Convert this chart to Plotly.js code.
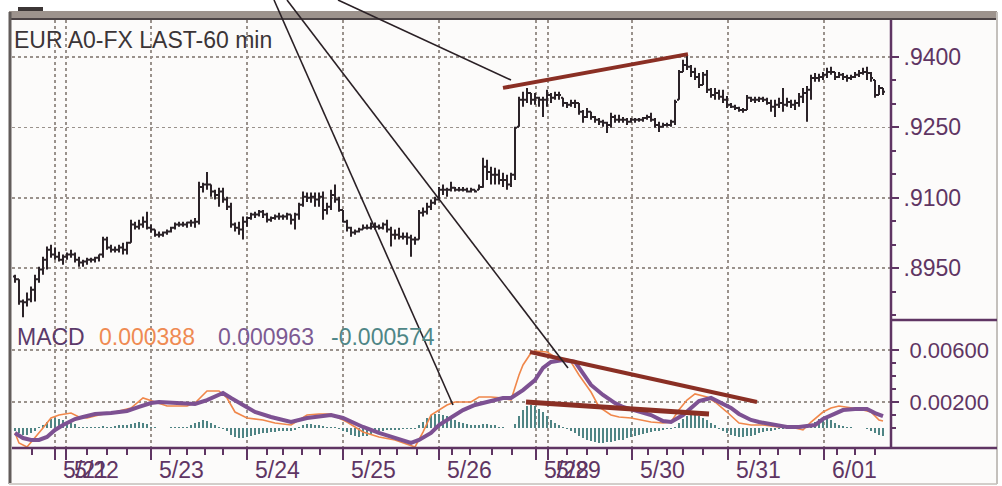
<!DOCTYPE html>
<html><head><meta charset="utf-8">
<script src="https://cdn.plot.ly/plotly-3.0.1.min.js"></script>
<style>html,body{margin:0;padding:0;background:#fff;}#chart{width:1002px;height:486px;}</style>
</head><body><div id="chart"></div>
<script>
// ---------------- DATA ----------------
const open = [
0.8932,0.8926,0.8879,0.8877,0.8883,0.8904,0.8926,0.8947,0.8968,0.8989,
0.8979,0.8974,0.8968,0.8974,0.8979,0.8979,0.8968,0.8962,0.8964,0.8968,
0.8968,0.8972,0.8979,0.9011,0.8994,0.8989,0.8989,0.8994,0.8989,0.9004,
0.9043,0.9038,0.9043,0.9049,0.9036,0.9032,0.9021,0.9021,0.9026,0.9028,
0.9036,0.9043,0.9043,0.9043,0.9047,0.9047,0.9049,0.9123,0.9128,0.9128,
0.9113,0.9106,0.9113,0.9096,0.9081,0.9043,0.9036,0.9032,0.9049,0.9057,
0.9064,0.9064,0.9070,0.9064,0.9053,0.9057,0.9060,0.9060,0.9060,0.9064,
0.9053,0.9064,0.9085,0.9102,0.9100,0.9102,0.9096,0.9102,0.9074,0.9081,
0.9106,0.9096,0.9074,0.9049,0.9036,0.9026,0.9028,0.9032,0.9036,0.9036,
0.9038,0.9038,0.9036,0.9043,0.9032,0.9021,0.9021,0.9017,0.9017,0.9015,
0.9011,0.9011,0.9068,0.9070,0.9081,0.9089,0.9096,0.9117,0.9117,0.9117,
0.9121,0.9117,0.9117,0.9117,0.9113,0.9117,0.9117,0.9123,0.9166,0.9155,
0.9149,0.9149,0.9138,0.9138,0.9128,0.9149,0.9251,0.9309,0.9309,0.9323,
0.9309,0.9313,0.9309,0.9309,0.9319,0.9313,0.9319,0.9313,0.9302,0.9298,
0.9302,0.9302,0.9283,0.9272,0.9283,0.9272,0.9266,0.9262,0.9260,0.9255,
0.9272,0.9266,0.9266,0.9266,0.9262,0.9266,0.9266,0.9266,0.9270,0.9272,
0.9266,0.9255,0.9251,0.9255,0.9255,0.9262,0.9309,0.9368,0.9383,0.9379,
0.9368,0.9357,0.9340,0.9362,0.9330,0.9319,0.9323,0.9315,0.9309,0.9298,
0.9294,0.9291,0.9287,0.9287,0.9313,0.9309,0.9309,0.9311,0.9309,0.9302,
0.9294,0.9298,0.9302,0.9298,0.9304,0.9298,0.9302,0.9315,0.9323,0.9330,
0.9355,0.9355,0.9357,0.9362,0.9368,0.9368,0.9357,0.9362,0.9357,0.9355,
0.9357,0.9362,0.9366,0.9368,0.9366,0.9351,0.9319,0.9334];
const high = [
0.8936,0.8926,0.8883,0.8898,0.8911,0.8936,0.8953,0.8974,0.8996,0.9000,
0.8994,0.8985,0.8979,0.8983,0.8989,0.8983,0.8974,0.8968,0.8972,0.8972,
0.8974,0.8979,0.9017,0.9017,0.9000,0.8996,0.9000,0.9004,0.9006,0.9053,
0.9049,0.9053,0.9060,0.9070,0.9043,0.9032,0.9028,0.9028,0.9032,0.9038,
0.9047,0.9049,0.9049,0.9049,0.9053,0.9057,0.9134,0.9132,0.9155,0.9128,
0.9117,0.9121,0.9121,0.9102,0.9089,0.9047,0.9049,0.9060,0.9060,0.9068,
0.9070,0.9074,0.9074,0.9068,0.9060,0.9064,0.9068,0.9064,0.9068,0.9064,
0.9068,0.9089,0.9113,0.9111,0.9111,0.9111,0.9111,0.9113,0.9089,0.9117,
0.9128,0.9102,0.9074,0.9053,0.9038,0.9032,0.9036,0.9043,0.9043,0.9047,
0.9047,0.9043,0.9047,0.9053,0.9038,0.9032,0.9036,0.9026,0.9026,0.9021,
0.9017,0.9074,0.9079,0.9089,0.9096,0.9102,0.9123,0.9128,0.9121,0.9134,
0.9123,0.9123,0.9123,0.9121,0.9121,0.9117,0.9128,0.9185,0.9181,0.9166,
0.9164,0.9160,0.9153,0.9149,0.9153,0.9251,0.9315,0.9326,0.9334,0.9323,
0.9323,0.9315,0.9315,0.9330,0.9323,0.9326,0.9326,0.9313,0.9304,0.9309,
0.9309,0.9302,0.9287,0.9291,0.9283,0.9274,0.9270,0.9266,0.9262,0.9281,
0.9277,0.9277,0.9272,0.9270,0.9270,0.9270,0.9270,0.9272,0.9277,0.9281,
0.9270,0.9262,0.9260,0.9260,0.9266,0.9309,0.9372,0.9394,0.9404,0.9383,
0.9377,0.9366,0.9368,0.9372,0.9334,0.9334,0.9330,0.9330,0.9317,0.9302,
0.9298,0.9294,0.9291,0.9319,0.9315,0.9315,0.9315,0.9315,0.9313,0.9309,
0.9309,0.9313,0.9334,0.9313,0.9309,0.9309,0.9323,0.9334,0.9338,0.9362,
0.9366,0.9364,0.9368,0.9377,0.9379,0.9368,0.9368,0.9366,0.9362,0.9362,
0.9368,0.9372,0.9377,0.9379,0.9368,0.9351,0.9340,0.9334];
const low = [
0.8919,0.8872,0.8845,0.8868,0.8877,0.8879,0.8919,0.8936,0.8947,0.8972,
0.8968,0.8964,0.8957,0.8968,0.8972,0.8962,0.8953,0.8953,0.8957,0.8962,
0.8962,0.8964,0.8972,0.8989,0.8983,0.8983,0.8983,0.8979,0.8979,0.9004,
0.9032,0.9032,0.9036,0.9032,0.9026,0.9017,0.9015,0.9017,0.9021,0.9026,
0.9032,0.9038,0.9038,0.9036,0.9038,0.9036,0.9043,0.9111,0.9117,0.9102,
0.9096,0.9081,0.9089,0.9074,0.9036,0.9028,0.9021,0.9011,0.9038,0.9053,
0.9057,0.9060,0.9057,0.9047,0.9049,0.9053,0.9053,0.9053,0.9053,0.9043,
0.9032,0.9053,0.9081,0.9091,0.9089,0.9081,0.9081,0.9053,0.9064,0.9074,
0.9089,0.9070,0.9047,0.9028,0.9017,0.9021,0.9026,0.9032,0.9032,0.9032,
0.9032,0.9032,0.9032,0.9026,0.8996,0.9011,0.9011,0.9011,0.9000,0.8974,
0.9000,0.9011,0.9060,0.9064,0.9074,0.9085,0.9096,0.9106,0.9102,0.9113,
0.9113,0.9113,0.9113,0.9111,0.9111,0.9111,0.9117,0.9121,0.9138,0.9128,
0.9128,0.9128,0.9123,0.9117,0.9123,0.9138,0.9251,0.9294,0.9302,0.9298,
0.9298,0.9294,0.9272,0.9294,0.9302,0.9309,0.9309,0.9294,0.9291,0.9294,
0.9291,0.9277,0.9260,0.9270,0.9266,0.9260,0.9255,0.9251,0.9238,0.9249,
0.9260,0.9260,0.9260,0.9255,0.9260,0.9260,0.9262,0.9262,0.9266,0.9262,
0.9249,0.9240,0.9249,0.9251,0.9251,0.9255,0.9309,0.9368,0.9372,0.9357,
0.9351,0.9334,0.9340,0.9323,0.9313,0.9309,0.9309,0.9302,0.9291,0.9291,
0.9287,0.9283,0.9281,0.9287,0.9304,0.9302,0.9304,0.9304,0.9298,0.9283,
0.9272,0.9291,0.9283,0.9294,0.9291,0.9287,0.9294,0.9302,0.9262,0.9309,
0.9347,0.9347,0.9351,0.9355,0.9362,0.9351,0.9355,0.9351,0.9347,0.9351,
0.9355,0.9357,0.9362,0.9351,0.9347,0.9313,0.9319,0.9319];
const close = [
0.8926,0.8879,0.8877,0.8883,0.8904,0.8926,0.8947,0.8968,0.8989,0.8979,
0.8974,0.8968,0.8974,0.8979,0.8979,0.8968,0.8962,0.8964,0.8968,0.8968,
0.8972,0.8979,0.9011,0.8994,0.8989,0.8989,0.8994,0.8989,0.9004,0.9043,
0.9038,0.9043,0.9049,0.9036,0.9032,0.9021,0.9021,0.9026,0.9028,0.9036,
0.9043,0.9043,0.9043,0.9047,0.9047,0.9049,0.9123,0.9128,0.9128,0.9113,
0.9106,0.9113,0.9096,0.9081,0.9043,0.9036,0.9032,0.9049,0.9057,0.9064,
0.9064,0.9070,0.9064,0.9053,0.9057,0.9060,0.9060,0.9060,0.9064,0.9053,
0.9064,0.9085,0.9102,0.9100,0.9102,0.9096,0.9102,0.9074,0.9081,0.9106,
0.9096,0.9074,0.9049,0.9036,0.9026,0.9028,0.9032,0.9036,0.9036,0.9038,
0.9038,0.9036,0.9043,0.9032,0.9021,0.9021,0.9017,0.9017,0.9015,0.9011,
0.9011,0.9068,0.9070,0.9081,0.9089,0.9096,0.9117,0.9117,0.9117,0.9121,
0.9117,0.9117,0.9117,0.9113,0.9117,0.9113,0.9123,0.9166,0.9155,0.9149,
0.9149,0.9138,0.9138,0.9128,0.9149,0.9249,0.9309,0.9309,0.9323,0.9309,
0.9313,0.9309,0.9309,0.9319,0.9313,0.9319,0.9319,0.9302,0.9298,0.9302,
0.9302,0.9283,0.9272,0.9283,0.9272,0.9266,0.9262,0.9260,0.9255,0.9272,
0.9266,0.9266,0.9266,0.9262,0.9266,0.9266,0.9266,0.9270,0.9272,0.9266,
0.9255,0.9251,0.9255,0.9255,0.9262,0.9304,0.9368,0.9383,0.9379,0.9368,
0.9357,0.9340,0.9362,0.9330,0.9319,0.9323,0.9315,0.9309,0.9298,0.9294,
0.9291,0.9287,0.9287,0.9313,0.9309,0.9309,0.9311,0.9309,0.9302,0.9294,
0.9298,0.9302,0.9298,0.9304,0.9298,0.9302,0.9315,0.9323,0.9330,0.9355,
0.9355,0.9357,0.9362,0.9368,0.9368,0.9357,0.9362,0.9357,0.9355,0.9357,
0.9362,0.9366,0.9368,0.9366,0.9355,0.9319,0.9334,0.9326];

// MACD (orange) line: bar index / value
const macdX = [0,1,3,5,7,9,11,14,16,18,21,25,29,32,35,38,43,45,48,51,53,55,58,62,65,69,73,76,79,83,87,91,95,99,100,102,104,108,110,114,116,119,122,124,126,127,129,130,133,135,139,141,144,146,149,151,154,159,162,164,166,168,170,173,175,178,181,184,187,191,195,197,199,202,204,206,209,211,214,216,217];
const macdV = [-0.00038,-0.00115,-0.00146,-0.00077,0.0,0.00077,0.00100,0.00115,0.00085,0.00077,0.00100,0.00123,0.00154,0.00231,0.00200,0.00169,0.00169,0.00192,0.00285,0.00285,0.00231,0.00123,0.00077,0.00062,0.00038,0.00023,0.00100,0.00108,0.00108,0.00046,-0.00031,-0.00069,-0.00092,-0.00131,-0.00146,-0.00031,0.00100,0.00177,0.00200,0.00200,0.00238,0.00238,0.00231,0.00215,0.00408,0.00485,0.00577,0.00592,0.00585,0.00546,0.00508,0.00408,0.00277,0.00162,0.00100,0.00085,0.00077,0.00046,0.00038,0.00046,0.00140,0.00215,0.00262,0.00238,0.00200,0.00123,0.00038,0.00023,0.00023,0.00008,0.0,-0.00015,0.00046,0.00123,0.00154,0.00169,0.00154,0.00146,0.00123,0.00062,0.00054];
// Signal (purple) line
const signalX = [0,2,4,6,8,10,12,15,17,20,24,28,31,34,36,40,43,45,48,50,52,54,57,60,64,67,69,73,76,79,82,84,87,91,95,99,101,104,106,109,112,115,119,122,124,127,130,132,134,137,140,142,144,147,150,152,156,159,162,164,167,169,171,174,176,179,181,184,186,190,193,196,200,202,205,207,210,213,215,217];
const signalV = [-0.00038,-0.00077,-0.00092,-0.00092,-0.00069,-0.00015,0.00023,0.00069,0.00085,0.00108,0.00115,0.00131,0.00162,0.00192,0.00200,0.00192,0.00192,0.00185,0.00215,0.00246,0.00269,0.00231,0.00177,0.00123,0.00085,0.00062,0.00046,0.00077,0.00092,0.00100,0.00077,0.00046,0.00008,-0.00038,-0.00077,-0.00115,-0.00092,-0.00038,0.00023,0.00085,0.00138,0.00177,0.00208,0.00231,0.00231,0.00292,0.00369,0.00462,0.00508,0.00523,0.00508,0.00423,0.00331,0.00254,0.00192,0.00162,0.00123,0.00100,0.00054,0.00046,0.00100,0.00154,0.00208,0.00231,0.00200,0.00154,0.00108,0.00062,0.00046,0.00023,0.00008,0.00008,0.00023,0.00069,0.00115,0.00138,0.00146,0.00146,0.00115,0.00092];
// Histogram, one per bar
const histV = [
-0.0002,-0.0004,-0.0005,-0.0005,-0.0004,-0.0002,0.00005,0.0002,0.0005,0.0007,
0.0008,0.0007,0.0006,0.0005,0.0004,0.0003,0.0001,0.00005,0.00005,0.00005,
0.00005,0.0001,0.00015,0.0001,0.0001,0.00015,0.0002,0.0002,0.00025,0.0003,
0.0004,0.00045,0.0004,0.0003,0.0001,0.00005,0.00003,0.00003,0.00003,0.00005,
0.00005,0.00005,0.00005,0.0001,0.0002,0.00035,0.0005,0.0006,0.00055,0.0004,
0.00025,0.0001,-0.00005,-0.0002,-0.0005,-0.0007,-0.0008,-0.0008,-0.0007,-0.0006,
-0.0005,-0.00045,-0.0004,-0.00035,-0.0003,-0.0003,-0.00025,-0.00025,-0.0002,-0.0002,
-0.00015,0.0001,0.0002,0.0003,0.0003,0.00025,0.0002,0.00015,0.0001,0.0001,
0.00005,-0.0001,-0.0002,-0.0003,-0.0005,-0.0006,-0.0007,-0.00065,-0.0006,-0.0005,
-0.0003,-0.0002,-0.0002,-0.00015,-0.00015,-0.00015,-0.00015,-0.0001,-0.0001,-0.0001,
-0.0001,0.0002,0.0005,0.0008,0.0010,0.0011,0.0011,0.0010,0.0009,0.0007,
0.0006,0.0005,0.0004,0.0003,0.00025,0.0002,0.0002,0.0003,0.0003,0.00025,
0.0002,0.0001,0.00005,0.00003,0.00003,0.0003,0.0009,0.0014,0.0017,0.0018,
0.0017,0.0015,0.0012,0.0009,0.0006,0.0004,0.0002,0.0001,-0.0001,-0.0002,
-0.0004,-0.0006,-0.0008,-0.0009,-0.0010,-0.0011,-0.00115,-0.00115,-0.0011,-0.00105,
-0.0010,-0.00095,-0.0009,-0.0008,-0.0007,-0.0006,-0.0005,-0.00045,-0.0004,-0.0003,
-0.00025,-0.0002,-0.00015,-0.0001,-0.00005,0.0001,0.0004,0.0007,0.0009,0.0010,
0.0010,0.0009,0.0008,0.0006,0.0004,0.0002,-0.0001,-0.0002,-0.00035,-0.0005,
-0.0006,-0.0007,-0.0007,-0.00065,-0.0006,-0.0005,-0.0004,-0.0003,-0.00025,-0.0002,
-0.00015,-0.0001,-0.0001,-0.00005,-0.00005,-0.00003,0.00003,0.00005,0.0001,0.0003,
0.0005,0.0007,0.0008,0.00075,0.0006,0.0004,0.00025,0.00015,0.00008,0.00005,
0.00003,0.00003,0.00002,-0.00005,-0.0002,-0.0004,-0.0005,-0.0006];

// Axis ticks and labels
const priceTicks = [0.8950, 0.9100, 0.9250, 0.9400];
const priceTickText = ['.8950', '.9100', '.9250', '.9400'];
const priceMinorTicks = [0.8850, 0.8900, 0.9000, 0.9050, 0.9150, 0.9200, 0.9300, 0.9350];
const macdTicks = [0.002, 0.006];
const macdTickText = ['0.00200', '0.00600'];
const macdMinorTicks = [0.000, 0.001, 0.003, 0.004, 0.005];
const dayTicks = [10, 12.75, 34, 58, 82, 106, 130.25, 133.25, 154.25, 178.25, 202.25];
const dayLabels = ['5/21', '5/22', '5/23', '5/24', '5/25', '5/26', '5/28', '5/29', '5/30', '5/31', '6/01'];
const hourTicks = [4.25, 18, 23, 28, 38.75, 43, 47.5, 52, 63, 67, 71.75, 76.25, 86.75, 91.25, 95.5, 100.5, 109.25, 113.75, 119.25, 124.25, 138, 143, 148, 158.25, 163, 167, 172, 181.25, 186.25, 190.75, 196.25, 205.5, 210, 215];
const chartTitle = 'EUR A0-FX LAST-60 min';
const macdLegend = [
  {text: 'MACD', color: '#5b3a6a'},
  {text: '0.000388', color: '#ef8a52'},
  {text: '0.000963', color: '#7c5a92'},
  {text: '-0.000574', color: '#4f8686'}
];
// Trend lines drawn on the chart (bar index, value)
const trendLines = [
  {x0: 122, y0: 0.9334, x1: 168.25, y1: 0.9406, axis: 'y', w: 4},
  {x0: 128.75, y0: 0.00585, x1: 185.5, y1: 0.0020, axis: 'y2', w: 4},
  {x0: 127.75, y0: 0.0020, x1: 173.5, y1: 0.00108, axis: 'y2', w: 5}
];

// ---------------- LAYOUT ----------------
const W = 1002, H = 486, M = {l: 12, r: 112, t: 20, b: 38};
const PW = W - M.l - M.r, PH = H - M.t - M.b;
const px = x => (x - M.l) / PW;
const py = y => (H - M.b - y) / PH;
const split = py(320);

const PURPLE = '#5f3563';
const BAR = '#2b2328';
const GRID = '#9a928c';
const FONT = 'Liberation Sans, Arial, sans-serif';

const barIndex = open.map((_, i) => i);

const traces = [
  {type: 'ohlc', x: barIndex, open: open, high: high, low: low, close: close,
   xaxis: 'x', yaxis: 'y', tickwidth: 0.5,
   increasing: {line: {color: BAR, width: 2}}, decreasing: {line: {color: BAR, width: 2}},
   hoverinfo: 'skip', showlegend: false},
  {type: 'bar', x: barIndex, y: histV, xaxis: 'x2', yaxis: 'y2', width: 0.42,
   marker: {color: '#4f8484', line: {width: 0}}, hoverinfo: 'skip', showlegend: false},
  {type: 'scatter', mode: 'lines', x: macdX, y: macdV, xaxis: 'x2', yaxis: 'y2',
   line: {color: '#f0874a', width: 1.6}, hoverinfo: 'skip', showlegend: false},
  {type: 'scatter', mode: 'lines', x: signalX, y: signalV, xaxis: 'x2', yaxis: 'y2',
   line: {color: '#7d5192', width: 4}, hoverinfo: 'skip', showlegend: false}
];

const gridCommon = {showgrid: true, gridcolor: GRID, griddash: 'dot', gridwidth: 1.6, zeroline: false, showline: false, layer: 'above traces'};

const shapes = [
  // frame background
  {type: 'rect', xref: 'paper', yref: 'paper', x0: px(9), x1: px(997), y0: py(484), y1: py(12), fillcolor: '#fcfbfa', line: {width: 0}, layer: 'below'},
  {type: 'rect', xref: 'paper', yref: 'paper', x0: px(18), x1: px(43), y0: py(13), y1: py(7), fillcolor: '#3c3636', line: {width: 0}, layer: 'below'},
  {type: 'rect', xref: 'paper', yref: 'paper', x0: px(9), x1: px(997), y0: py(18), y1: py(11), fillcolor: '#9d938d', line: {width: 0}, layer: 'below'},
  {type: 'line', xref: 'paper', yref: 'paper', x0: px(9), x1: px(997), y0: py(19), y1: py(19), line: {color: '#4b4345', width: 2}},
  {type: 'line', xref: 'paper', yref: 'paper', x0: px(10), x1: px(10), y0: py(12), y1: py(484), line: {color: '#625c5a', width: 3}},
  {type: 'line', xref: 'paper', yref: 'paper', x0: px(9), x1: px(997), y0: py(484), y1: py(484), line: {color: '#d2ceca', width: 2}},
  {type: 'line', xref: 'paper', yref: 'paper', x0: px(997), x1: px(997), y0: py(12), y1: py(484), line: {color: '#c4c0bc', width: 2}},
  // axis lines
  {type: 'line', xref: 'paper', yref: 'paper', x0: px(891), x1: px(891), y0: py(20), y1: py(448), line: {color: PURPLE, width: 2.5}},
  {type: 'line', xref: 'paper', yref: 'paper', x0: px(12), x1: px(997), y0: py(448), y1: py(448), line: {color: PURPLE, width: 2.5}},
  {type: 'line', xref: 'paper', yref: 'paper', x0: px(891), x1: px(997), y0: py(320), y1: py(320), line: {color: PURPLE, width: 2.5}}
];
trendLines.forEach(t => shapes.push({
  type: 'line', xref: t.axis === 'y' ? 'x' : 'x2', yref: t.axis,
  x0: t.x0, y0: t.y0, x1: t.x1, y1: t.y1, line: {color: '#8a2f24', width: t.w}, layer: 'above'
}));
// pointer lines (pixel positions of the drawn annotation strokes)
const pointerLines = [[274, 0, 453, 405], [287, 0, 568, 368], [338, 0, 511, 80]];
pointerLines.forEach(p => shapes.push({
  type: 'line', xref: 'paper', yref: 'paper', x0: px(p[0]), y0: py(p[1]), x1: px(p[2]), y1: py(p[3]),
  line: {color: '#2a2025', width: 1.6}, layer: 'above'
}));

const annotations = [
  {xref: 'paper', yref: 'paper', x: px(12), y: py(40), xanchor: 'left', yanchor: 'middle', showarrow: false,
   text: chartTitle, font: {family: FONT, size: 23, color: '#3b3537'}}
];
const legendX = [15, 97, 216, 329];
macdLegend.forEach((m, k) => annotations.push({
  xref: 'paper', yref: 'paper', x: px(legendX[k]), y: py(337), xanchor: 'left', yanchor: 'middle', showarrow: false,
  text: m.text, font: {family: FONT, size: 23, color: m.color}
}));
dayTicks.forEach((d, k) => annotations.push({
  xref: 'x2', yref: 'paper', x: d, y: py(470), xanchor: 'left', yanchor: 'middle', xshift: 6, showarrow: false,
  text: dayLabels[k], font: {family: FONT, size: 23, color: PURPLE}
}));

const xr = [-0.75, 218.75];
const layout = {
  width: W, height: H, margin: M,
  paper_bgcolor: '#ffffff', plot_bgcolor: '#fcfbfa',
  showlegend: false, bargap: 0,
  font: {family: FONT, color: PURPLE},
  xaxis: Object.assign({}, gridCommon, {domain: [0, 1], range: xr, anchor: 'y', tickmode: 'array', tickvals: dayTicks,
    ticks: '', showticklabels: false, rangeslider: {visible: false}, fixedrange: true}),
  xaxis2: Object.assign({}, gridCommon, {domain: [0, 1], range: xr, anchor: 'y2', matches: 'x', tickmode: 'array', tickvals: dayTicks,
    ticks: 'outside', ticklen: 11, tickwidth: 2, tickcolor: PURPLE, showticklabels: false,
    minor: {tickmode: 'array', tickvals: hourTicks, ticks: 'outside', ticklen: 6, tickwidth: 2, tickcolor: PURPLE, showgrid: false},
    rangeslider: {visible: false}}),
  yaxis: Object.assign({}, gridCommon, {domain: [split, 1], range: [0.88394, 0.94787], anchor: 'x', side: 'right',
    tickmode: 'array', tickvals: priceTicks, ticktext: priceTickText, ticks: 'outside', ticklen: 8, tickwidth: 2, tickcolor: PURPLE,
    tickfont: {family: FONT, size: 23, color: PURPLE},
    minor: {tickmode: 'array', tickvals: priceMinorTicks, ticks: 'outside', ticklen: 5, tickwidth: 2, tickcolor: PURPLE, showgrid: false}}),
  yaxis2: Object.assign({}, gridCommon, {domain: [0, split], range: [-0.001538, 0.008308], anchor: 'x2', side: 'right',
    tickmode: 'array', tickvals: macdTicks, ticktext: macdTickText, ticks: 'outside', ticklen: 8, tickwidth: 2, tickcolor: PURPLE,
    tickfont: {family: FONT, size: 22, color: PURPLE}, ticklabelstandoff: 6,
    minor: {tickmode: 'array', tickvals: macdMinorTicks, ticks: 'outside', ticklen: 5, tickwidth: 2, tickcolor: PURPLE, showgrid: false}}),
  shapes: shapes,
  annotations: annotations
};

Plotly.newPlot('chart', traces, layout, {displayModeBar: false, staticPlot: true});
</script>
</body></html>
